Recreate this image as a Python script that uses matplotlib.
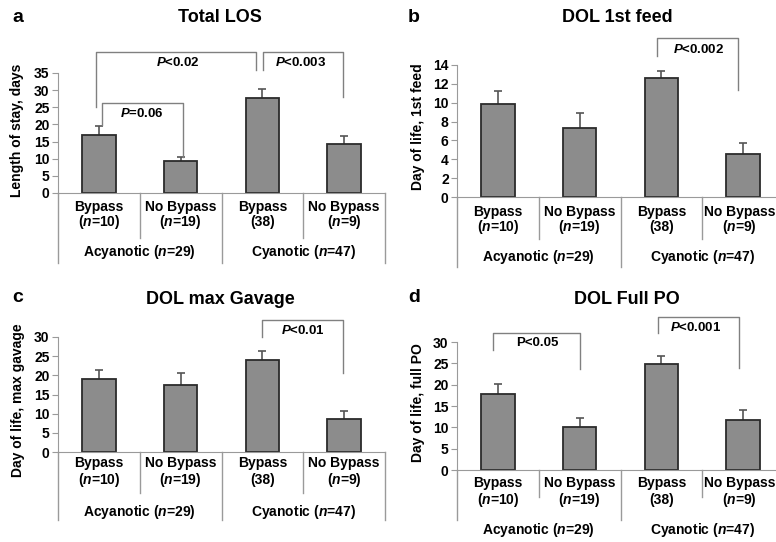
import numpy as np
import matplotlib
matplotlib.use('Agg')
import matplotlib.pyplot as plt

plt.rcParams['font.family'] = ['Liberation Sans', 'DejaVu Sans']
plt.rcParams['font.weight'] = 'bold'
plt.rcParams['mathtext.fontset'] = 'custom'
plt.rcParams['mathtext.rm'] = 'Liberation Sans:bold'
plt.rcParams['mathtext.it'] = 'Liberation Sans:italic:bold'
plt.rcParams['mathtext.bf'] = 'Liberation Sans:bold'
plt.rcParams['mathtext.bfit'] = 'Liberation Sans:italic:bold'

# data
cat_top = ['Bypass', 'No Bypass', 'Bypass', 'No Bypass']
cat_bottom = [r'($\mathbfit{n}$=10)', r'($\mathbfit{n}$=19)', '(38)', r'($\mathbfit{n}$=9)']
groups = [r'Acyanotic ($\mathbfit{n}$=29)', r'Cyanotic ($\mathbfit{n}$=47)']

los_mean = [17.0, 9.3, 27.8, 14.4]
los_err = [2.5, 1.2, 2.4, 2.3]
feed_mean = [9.85, 7.35, 12.6, 4.6]
feed_err = [1.35, 1.6, 0.8, 1.15]
gavage_mean = [19.1, 17.4, 23.9, 8.6]
gavage_err = [2.3, 3.2, 2.4, 2.0]
po_mean = [17.9, 10.1, 24.9, 11.7]
po_err = [2.3, 2.0, 1.8, 2.4]

titles = ['Total LOS', 'DOL 1st feed', 'DOL max Gavage', 'DOL Full PO']
letters = ['a', 'b', 'c', 'd']
ylabels = ['Length of stay, days', 'Day of life, 1st feed',
           'Day of life, max gavage', 'Day of life, full PO']
ymax = [35, 14, 30, 30]
ystep = [5, 2, 5, 5]

# brackets: (x_left, x_right, top, left_bottom, right_bottom, text, text_x, text_y)
brackets = [
    [(0.46, 2.42, 41.0, 25.0, 36.0, r'$\mathbfit{P}$<0.02', 1.47, 38.2),
     (2.51, 3.49, 41.0, 36.0, 28.0, r'$\mathbfit{P}$<0.003', 2.97, 38.2),
     (0.54, 1.53, 26.2, 19.8, 10.5, r'$\mathbfit{P}$=0.06', 1.03, 23.3)],
    [(2.45, 3.44, 16.9, 15.0, 11.3, r'$\mathbfit{P}$<0.002', 2.95, 15.6)],
    [(2.50, 3.49, 34.5, 30.0, 20.6, r'$\mathbfit{P}$<0.01', 3.0, 31.8)],
    [(0.44, 1.50, 32.1, 28.1, 23.7, 'P<0.05', 0.98, 29.7),
     (2.46, 3.45, 35.8, 32.1, 23.9, r'$\mathbfit{P}$<0.001', 2.92, 33.5)],
]

means = [los_mean, feed_mean, gavage_mean, po_mean]
errs = [los_err, feed_err, gavage_err, po_err]

W, H = 776, 542
fig = plt.figure(figsize=(W / 100, H / 100), dpi=100)

# panel layout in pixels: left, right, y of zero, y of ymax
boxes = [(58, 385, 193, 73), (457, 784, 197, 65), (58, 385, 452, 337), (457, 784, 470, 342)]
# label rows in pixels: row1, row2, group, short sep end, long sep end
rows = [(207, 222, 252, 238, 263), (212, 227, 257, 239, 267),
        (463, 480, 512, 493, 520), (483, 500, 530, 497, 520)]
heads = [((220, 18), (12, 17), 17, 130), ((617, 18), (408, 17), 418, 127),
         ((220, 300), (12, 298), 18, 400), ((627, 300), (408, 298), 418, 403)]

gray = '#9a9a9a'
fs = 10
x = np.arange(4) + 0.5

for i in range(4):
    left, right, y0, yt = boxes[i]
    ax = fig.add_axes([left / W, 1 - y0 / H, (right - left) / W, (y0 - yt) / H])
    ax.set_xlim(0, 4)
    ax.set_ylim(0, ymax[i])
    ax.patch.set_alpha(0)

    tops = np.array(means[i]) + np.array(errs[i])
    ax.vlines(x, means[i], tops, color='#555555', lw=1.2, zorder=1)
    ax.hlines(tops, x - 0.05, x + 0.05, color='#555555', lw=1.2, zorder=1)
    ax.bar(x, means[i], width=0.41, color='#8c8c8c', edgecolor='#2b2b2b', lw=1.3, zorder=2)

    for side in ['top', 'right']:
        ax.spines[side].set_visible(False)
    ax.spines['left'].set_color(gray)
    ax.spines['bottom'].set_color(gray)
    ax.set_xticks([])
    ax.set_yticks(np.arange(0, ymax[i] + 0.1, ystep[i]))
    ax.tick_params(axis='y', length=4, color=gray, labelsize=fs, pad=2)
    for t in ax.get_yticklabels():
        t.set_fontweight('bold')

    tr = ax.get_xaxis_transform()
    fr = lambda p: (y0 - p) / (y0 - yt)
    r1, r2, rg, ss, ls = rows[i]
    lx_pos = x.copy()
    if right > W:
        lx_pos[3] -= 0.045  # keep the last label inside the picture
    for j in range(4):
        ax.text(lx_pos[j], fr(r1), cat_top[j], transform=tr, ha='center', va='center',
                fontsize=fs, fontweight='bold')
        ax.text(lx_pos[j], fr(r2), cat_bottom[j], transform=tr, ha='center', va='center',
                fontsize=fs, fontweight='bold')
    for g in range(2):
        ax.text(1 + 2 * g, fr(rg), groups[g], transform=tr, ha='center', va='center',
                fontsize=fs, fontweight='bold')
    for sx in [0, 2, 4]:
        ax.plot([sx, sx], [0, fr(ls)], transform=tr, color=gray, lw=1, clip_on=False)
    for sx in [1, 3]:
        ax.plot([sx, sx], [0, fr(ss)], transform=tr, color=gray, lw=1, clip_on=False)

    for xl, xr, top, lb, rb, txt, tx, ty in brackets[i]:
        ax.plot([xl, xl, xr, xr], [lb, top, top, rb], color='#808080', lw=1, clip_on=False)
        ax.text(tx, ty, txt, ha='center', va='center', fontsize=9.5, fontweight='bold',
                clip_on=False)

    (tx, ty), (lx, ly), yx, yy = heads[i]
    fig.text(tx / W, 1 - ty / H, titles[i], ha='center', va='center', fontsize=13,
             fontweight='bold')
    fig.text(lx / W, 1 - ly / H, letters[i], ha='left', va='center', fontsize=14,
             fontweight='bold')
    fig.text(yx / W, 1 - yy / H, ylabels[i], ha='center', va='center', rotation=90,
             fontsize=fs, fontweight='bold')

fig.savefig('out.png', dpi=100)
